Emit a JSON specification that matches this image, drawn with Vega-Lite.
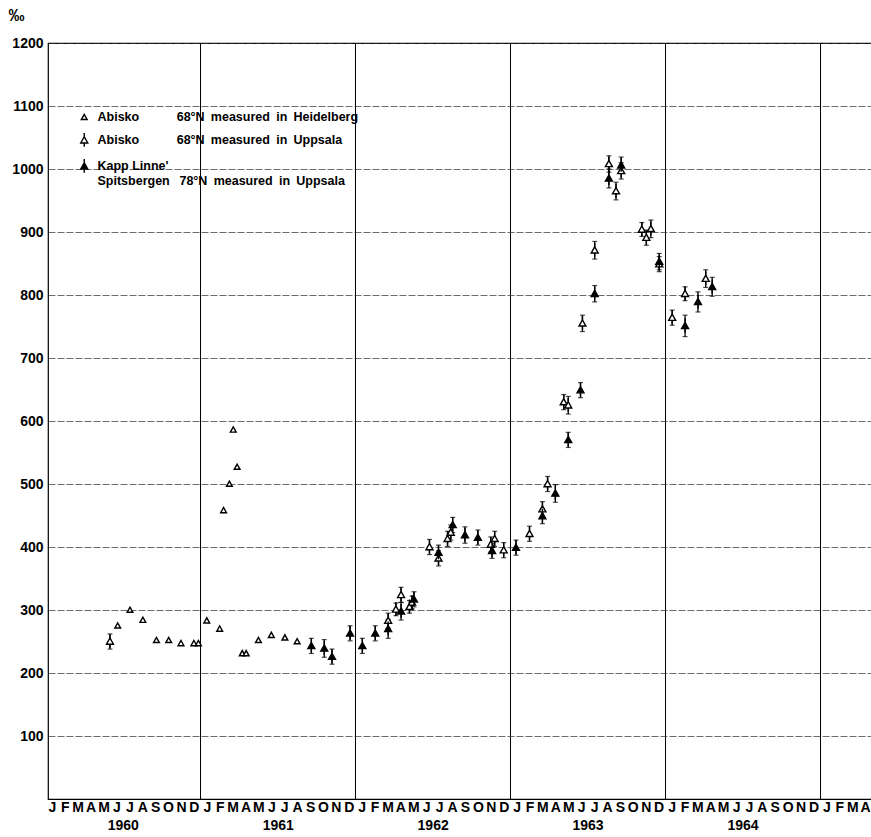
{
  "$schema": "https://vega.github.io/schema/vega-lite/v6.json",
  "width": 824,
  "height": 756,
  "autosize": {"type": "none"},
  "padding": {"left": 48, "top": 43, "right": 0, "bottom": 38},
  "background": "white",
  "config": {
    "view": {"stroke": "black", "strokeWidth": 1.2},
    "font": "Liberation Sans",
    "axis": {"labelFont": "Liberation Sans", "labelFontWeight": "bold", "labelColor": "black", "titleFont": "Liberation Sans", "titleColor": "black"}
  },
  "data": {
    "values": [
      {"series": "Abisko 68°N measured in Heidelberg", "m": 5.6, "v": 275},
      {"series": "Abisko 68°N measured in Heidelberg", "m": 6.55, "v": 300},
      {"series": "Abisko 68°N measured in Heidelberg", "m": 7.55, "v": 284},
      {"series": "Abisko 68°N measured in Heidelberg", "m": 8.6, "v": 252},
      {"series": "Abisko 68°N measured in Heidelberg", "m": 9.55, "v": 252},
      {"series": "Abisko 68°N measured in Heidelberg", "m": 10.5, "v": 247},
      {"series": "Abisko 68°N measured in Heidelberg", "m": 11.5, "v": 247},
      {"series": "Abisko 68°N measured in Heidelberg", "m": 11.85, "v": 247},
      {"series": "Abisko 68°N measured in Heidelberg", "m": 12.5, "v": 283},
      {"series": "Abisko 68°N measured in Heidelberg", "m": 13.5, "v": 270},
      {"series": "Abisko 68°N measured in Heidelberg", "m": 13.8, "v": 458},
      {"series": "Abisko 68°N measured in Heidelberg", "m": 14.25, "v": 500},
      {"series": "Abisko 68°N measured in Heidelberg", "m": 14.55, "v": 586},
      {"series": "Abisko 68°N measured in Heidelberg", "m": 14.85, "v": 527},
      {"series": "Abisko 68°N measured in Heidelberg", "m": 15.25, "v": 231},
      {"series": "Abisko 68°N measured in Heidelberg", "m": 15.55, "v": 231},
      {"series": "Abisko 68°N measured in Heidelberg", "m": 16.5, "v": 252},
      {"series": "Abisko 68°N measured in Heidelberg", "m": 17.5, "v": 260},
      {"series": "Abisko 68°N measured in Heidelberg", "m": 18.55, "v": 256},
      {"series": "Abisko 68°N measured in Heidelberg", "m": 19.5, "v": 250},

      {"series": "Abisko 68°N measured in Uppsala", "m": 5.0, "v": 250, "e": 12},
      {"series": "Abisko 68°N measured in Uppsala", "m": 26.55, "v": 283, "e": 12},
      {"series": "Abisko 68°N measured in Uppsala", "m": 27.15, "v": 301, "e": 10},
      {"series": "Abisko 68°N measured in Uppsala", "m": 27.55, "v": 324, "e": 12},
      {"series": "Abisko 68°N measured in Uppsala", "m": 28.2, "v": 305, "e": 10},
      {"series": "Abisko 68°N measured in Uppsala", "m": 28.4, "v": 312, "e": 10},
      {"series": "Abisko 68°N measured in Uppsala", "m": 29.75, "v": 400, "e": 12},
      {"series": "Abisko 68°N measured in Uppsala", "m": 30.45, "v": 382, "e": 12},
      {"series": "Abisko 68°N measured in Uppsala", "m": 31.15, "v": 413, "e": 12},
      {"series": "Abisko 68°N measured in Uppsala", "m": 31.4, "v": 423, "e": 12},
      {"series": "Abisko 68°N measured in Uppsala", "m": 34.5, "v": 404, "e": 12},
      {"series": "Abisko 68°N measured in Uppsala", "m": 34.8, "v": 413, "e": 12},
      {"series": "Abisko 68°N measured in Uppsala", "m": 35.5, "v": 395, "e": 12},
      {"series": "Abisko 68°N measured in Uppsala", "m": 37.5, "v": 421, "e": 12},
      {"series": "Abisko 68°N measured in Uppsala", "m": 38.5, "v": 460, "e": 12},
      {"series": "Abisko 68°N measured in Uppsala", "m": 38.9, "v": 500, "e": 12},
      {"series": "Abisko 68°N measured in Uppsala", "m": 40.15, "v": 630, "e": 12},
      {"series": "Abisko 68°N measured in Uppsala", "m": 40.5, "v": 625, "e": 14},
      {"series": "Abisko 68°N measured in Uppsala", "m": 41.6, "v": 755, "e": 13},
      {"series": "Abisko 68°N measured in Uppsala", "m": 42.55, "v": 871, "e": 14},
      {"series": "Abisko 68°N measured in Uppsala", "m": 43.65, "v": 1008, "e": 13},
      {"series": "Abisko 68°N measured in Uppsala", "m": 44.2, "v": 965, "e": 14},
      {"series": "Abisko 68°N measured in Uppsala", "m": 44.6, "v": 997, "e": 13},
      {"series": "Abisko 68°N measured in Uppsala", "m": 46.2, "v": 904, "e": 11},
      {"series": "Abisko 68°N measured in Uppsala", "m": 46.55, "v": 891, "e": 12},
      {"series": "Abisko 68°N measured in Uppsala", "m": 46.9, "v": 905, "e": 14},
      {"series": "Abisko 68°N measured in Uppsala", "m": 47.55, "v": 849, "e": 12},
      {"series": "Abisko 68°N measured in Uppsala", "m": 48.55, "v": 764, "e": 12},
      {"series": "Abisko 68°N measured in Uppsala", "m": 49.55, "v": 802, "e": 11},
      {"series": "Abisko 68°N measured in Uppsala", "m": 51.15, "v": 826, "e": 14},

      {"series": "Kapp Linne' Spitsbergen 78°N measured in Uppsala", "m": 20.6, "v": 243, "e": 12},
      {"series": "Kapp Linne' Spitsbergen 78°N measured in Uppsala", "m": 21.6, "v": 239, "e": 14},
      {"series": "Kapp Linne' Spitsbergen 78°N measured in Uppsala", "m": 22.2, "v": 226, "e": 12},
      {"series": "Kapp Linne' Spitsbergen 78°N measured in Uppsala", "m": 23.6, "v": 263, "e": 12},
      {"series": "Kapp Linne' Spitsbergen 78°N measured in Uppsala", "m": 24.55, "v": 243, "e": 12},
      {"series": "Kapp Linne' Spitsbergen 78°N measured in Uppsala", "m": 25.55, "v": 263, "e": 12},
      {"series": "Kapp Linne' Spitsbergen 78°N measured in Uppsala", "m": 26.55, "v": 270, "e": 15},
      {"series": "Kapp Linne' Spitsbergen 78°N measured in Uppsala", "m": 27.55, "v": 298, "e": 14},
      {"series": "Kapp Linne' Spitsbergen 78°N measured in Uppsala", "m": 28.55, "v": 317, "e": 12},
      {"series": "Kapp Linne' Spitsbergen 78°N measured in Uppsala", "m": 30.45, "v": 391, "e": 12},
      {"series": "Kapp Linne' Spitsbergen 78°N measured in Uppsala", "m": 31.55, "v": 435, "e": 12},
      {"series": "Kapp Linne' Spitsbergen 78°N measured in Uppsala", "m": 32.5, "v": 419, "e": 13},
      {"series": "Kapp Linne' Spitsbergen 78°N measured in Uppsala", "m": 33.5, "v": 415, "e": 12},
      {"series": "Kapp Linne' Spitsbergen 78°N measured in Uppsala", "m": 34.6, "v": 394, "e": 12},
      {"series": "Kapp Linne' Spitsbergen 78°N measured in Uppsala", "m": 36.45, "v": 399, "e": 12},
      {"series": "Kapp Linne' Spitsbergen 78°N measured in Uppsala", "m": 38.5, "v": 449, "e": 12},
      {"series": "Kapp Linne' Spitsbergen 78°N measured in Uppsala", "m": 39.5, "v": 485, "e": 14},
      {"series": "Kapp Linne' Spitsbergen 78°N measured in Uppsala", "m": 40.5, "v": 570, "e": 12},
      {"series": "Kapp Linne' Spitsbergen 78°N measured in Uppsala", "m": 41.45, "v": 649, "e": 12},
      {"series": "Kapp Linne' Spitsbergen 78°N measured in Uppsala", "m": 42.55, "v": 802, "e": 13},
      {"series": "Kapp Linne' Spitsbergen 78°N measured in Uppsala", "m": 43.65, "v": 985, "e": 15},
      {"series": "Kapp Linne' Spitsbergen 78°N measured in Uppsala", "m": 44.6, "v": 1006, "e": 13},
      {"series": "Kapp Linne' Spitsbergen 78°N measured in Uppsala", "m": 47.55, "v": 853, "e": 13},
      {"series": "Kapp Linne' Spitsbergen 78°N measured in Uppsala", "m": 49.55, "v": 751, "e": 17},
      {"series": "Kapp Linne' Spitsbergen 78°N measured in Uppsala", "m": 50.55, "v": 789, "e": 16},
      {"series": "Kapp Linne' Spitsbergen 78°N measured in Uppsala", "m": 51.65, "v": 813, "e": 15}
    ]
  },
  "resolve": {"axis": {"x": "independent"}},
  "layer": [
    {
      "transform": [{"filter": "datum.e != null"}],
      "mark": {"type": "errorbar", "color": "black", "ticks": {"size": 5, "thickness": 1.2}, "rule": {"strokeWidth": 1.3}},
      "encoding": {
        "x": {
          "field": "m", "type": "quantitative",
          "scale": {"domain": [0.2, 64.03], "nice": false, "zero": false},
          "axis": {
            "orient": "bottom", "title": null,
            "values": [12, 24, 36, 48, 60],
            "grid": true, "gridColor": "black", "gridWidth": 1, "gridOpacity": 1,
            "ticks": false, "domain": false,
            "labelExpr": "'' + (1959 + datum.value / 12)",
            "labelOffset": -77.5, "labelPadding": 19, "labelFontSize": 14,
            "labelOverlap": false, "labelFlush": false, "labelBound": false
          }
        },
        "y": {
          "field": "v", "type": "quantitative",
          "scale": {"domain": [0, 1200], "nice": false, "zero": true},
          "title": "‰",
          "axis": {
            "orient": "left", "format": "d",
            "title": "‰", "titleAngle": 0, "titleAlign": "left", "titleBaseline": "middle",
            "titleX": -40, "titleY": -28, "titleFontSize": 16, "titleFontWeight": "bold",
            "values": [100,200,300,400,500,600,700,800,900,1000,1100,1200],
            "grid": true, "gridColor": "#333", "gridWidth": 0.8, "gridDash": [7, 2], "gridOpacity": 0.9,
            "ticks": false, "domain": false, "labelPadding": 5, "labelFontSize": 14
          }
        },
        "yError": {"field": "e"}
      }
    },
    {
      "mark": {"type": "point", "filled": true, "size": 60, "strokeWidth": 1.4, "opacity": 1},
      "encoding": {
        "x": {
          "field": "m", "type": "quantitative",
          "axis": {
            "orient": "bottom", "title": null,
            "values": [0.5,1.5,2.5,3.5,4.5,5.5,6.5,7.5,8.5,9.5,10.5,11.5,12.5,13.5,14.5,15.5,16.5,17.5,18.5,19.5,20.5,21.5,22.5,23.5,24.5,25.5,26.5,27.5,28.5,29.5,30.5,31.5,32.5,33.5,34.5,35.5,36.5,37.5,38.5,39.5,40.5,41.5,42.5,43.5,44.5,45.5,46.5,47.5,48.5,49.5,50.5,51.5,52.5,53.5,54.5,55.5,56.5,57.5,58.5,59.5,60.5,61.5,62.5,63.5],
            "grid": false, "ticks": false, "domain": false,
            "labelExpr": "['J','F','M','A','M','J','J','A','S','O','N','D'][floor(datum.value) % 12]",
            "labelPadding": 1, "labelFontSize": 14,
            "labelOverlap": false, "labelFlush": false, "labelBound": false
          }
        },
        "y": {
          "field": "v", "type": "quantitative",
          "title": "‰",
          "axis": {
            "orient": "left", "format": "d",
            "title": "‰", "titleAngle": 0, "titleAlign": "left", "titleBaseline": "middle",
            "titleX": -40, "titleY": -28, "titleFontSize": 16, "titleFontWeight": "bold",
            "values": [100,200,300,400,500,600,700,800,900,1000,1100,1200],
            "grid": true, "gridColor": "#333", "gridWidth": 0.8, "gridDash": [7, 2], "gridOpacity": 0.9,
            "ticks": false, "domain": false, "labelPadding": 5, "labelFontSize": 14
          }
        },
        "shape": {
          "field": "series", "type": "nominal",
          "scale": {
            "domain": ["Abisko 68°N measured in Heidelberg", "Abisko 68°N measured in Uppsala", "Kapp Linne' Spitsbergen 78°N measured in Uppsala"],
            "range": ["M-0.75,0.6L0.75,0.6L0,-0.75Z", "M-0.9,0.7L0.9,0.7L0,-0.9Z M0,-0.9L0,-1.9 M0,0.7L0,1.7", "M-0.9,0.7L0.9,0.7L0,-0.9Z M0,-0.9L0,-1.9 M0,0.7L0,1.7"]
          },
          "legend": {
            "orient": "none", "legendX": 30, "legendY": 68, "title": null,
            "labelFont": "Liberation Sans", "labelFontWeight": "bold", "labelFontSize": 12.5, "labelColor": "black",
            "symbolSize": 60, "symbolStrokeWidth": 1.4, "labelOffset": 7, "rowPadding": 6, "labelLimit": 0, "padding": 0,
            "labelExpr": "indexof(datum.label,'Heidelberg')>=0 ? 'Abisko\u2003\u2003\u200368°N\u2002measured\u2002in\u2002Heidelberg' : indexof(datum.label,'Kapp')>=0 ? [\"Kapp Linne'\", 'Spitsbergen\u2002 78°N\u2002measured\u2002in\u2002Uppsala'] : 'Abisko\u2003\u2003\u200368°N\u2002measured\u2002in\u2002Uppsala'"
          }
        },
        "fill": {
          "field": "series", "type": "nominal",
          "scale": {
            "domain": ["Abisko 68°N measured in Heidelberg", "Abisko 68°N measured in Uppsala", "Kapp Linne' Spitsbergen 78°N measured in Uppsala"],
            "range": ["white", "white", "black"]
          },
          "legend": {
            "orient": "none", "legendX": 30, "legendY": 68, "title": null,
            "labelFont": "Liberation Sans", "labelFontWeight": "bold", "labelFontSize": 12.5, "labelColor": "black",
            "symbolSize": 60, "symbolStrokeWidth": 1.4, "labelOffset": 7, "rowPadding": 6, "labelLimit": 0, "padding": 0,
            "labelExpr": "indexof(datum.label,'Heidelberg')>=0 ? 'Abisko\u2003\u2003\u200368°N\u2002measured\u2002in\u2002Heidelberg' : indexof(datum.label,'Kapp')>=0 ? [\"Kapp Linne'\", 'Spitsbergen\u2002 78°N\u2002measured\u2002in\u2002Uppsala'] : 'Abisko\u2003\u2003\u200368°N\u2002measured\u2002in\u2002Uppsala'"
          }
        },
        "stroke": {
          "field": "series", "type": "nominal",
          "scale": {
            "domain": ["Abisko 68°N measured in Heidelberg", "Abisko 68°N measured in Uppsala", "Kapp Linne' Spitsbergen 78°N measured in Uppsala"],
            "range": ["black", "black", "black"]
          },
          "legend": {
            "orient": "none", "legendX": 30, "legendY": 68, "title": null,
            "labelFont": "Liberation Sans", "labelFontWeight": "bold", "labelFontSize": 12.5, "labelColor": "black",
            "symbolSize": 60, "symbolStrokeWidth": 1.4, "labelOffset": 7, "rowPadding": 6, "labelLimit": 0, "padding": 0,
            "labelExpr": "indexof(datum.label,'Heidelberg')>=0 ? 'Abisko\u2003\u2003\u200368°N\u2002measured\u2002in\u2002Heidelberg' : indexof(datum.label,'Kapp')>=0 ? [\"Kapp Linne'\", 'Spitsbergen\u2002 78°N\u2002measured\u2002in\u2002Uppsala'] : 'Abisko\u2003\u2003\u200368°N\u2002measured\u2002in\u2002Uppsala'"
          }
        }
      }
    }
  ]
}
